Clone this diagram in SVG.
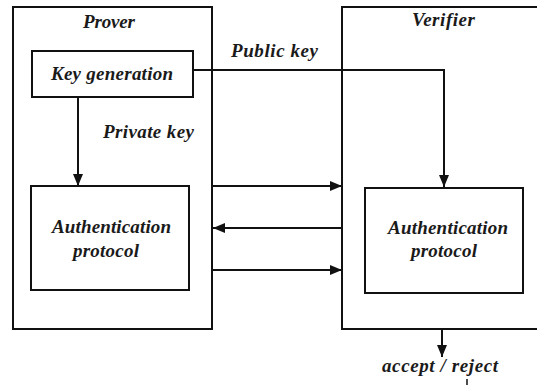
<svg xmlns="http://www.w3.org/2000/svg" width="537" height="385" viewBox="0 0 537 385">
<defs>
<marker id="ah" markerUnits="userSpaceOnUse" markerWidth="12" markerHeight="10" viewBox="0 0 12 10" refX="12" refY="5" orient="auto">
<path d="M0 0 L12 5 L0 10 Z" fill="#111"/>
</marker>
<style>
.box{fill:none;stroke:#111;stroke-width:2}
.ln{fill:none;stroke:#111;stroke-width:2}
.t{font-family:"Liberation Serif","Times New Roman",serif;font-style:italic;font-weight:bold;font-size:19px;fill:#1a1a1a}
</style>
</defs>
<rect width="537" height="385" fill="#fff"/>
<g id="prover">
<rect class="box" x="13" y="7" width="199" height="322"/>
<text class="t" x="83" y="28" textLength="52">Prover</text>
</g>
<g id="verifier">
<path class="box" d="M540 7 H342 V329 H540"/>
<text class="t" x="412" y="26" textLength="63">Verifier</text>
</g>
<g id="keygen">
<rect class="box" x="32" y="51" width="161" height="46"/>
<text class="t" x="51" y="80" textLength="122">Key generation</text>
</g>
<g id="prover-auth">
<rect class="box" x="31" y="186" width="158" height="104"/>
<text class="t" x="52" y="233" textLength="119">Authentication</text>
<text class="t" x="73" y="257" textLength="66">protocol</text>
</g>
<g id="verifier-auth">
<rect class="box" x="365" y="188" width="158" height="105"/>
<text class="t" x="388" y="234" textLength="120">Authentication</text>
<text class="t" x="411" y="257" textLength="66">protocol</text>
</g>
<g id="connectors">
<path class="ln" d="M78 97 V186" marker-end="url(#ah)"/>
<path class="ln" d="M193 70 H444 V187" marker-end="url(#ah)"/>
<path class="ln" d="M212 186 H342" marker-end="url(#ah)"/>
<path class="ln" d="M342 228 H213" marker-end="url(#ah)"/>
<path class="ln" d="M212 270 H342" marker-end="url(#ah)"/>
<path class="ln" d="M442 329 V357" marker-end="url(#ah)"/>
<path d="M467 379 V385" stroke="#111" stroke-width="1.5"/>
</g>
<g id="labels">
<text class="t" x="103" y="138" textLength="91">Private key</text>
<text class="t" x="231" y="57" textLength="87">Public key</text>
<text class="t" x="382" y="372" textLength="116">accept / reject</text>
</g>
</svg>
